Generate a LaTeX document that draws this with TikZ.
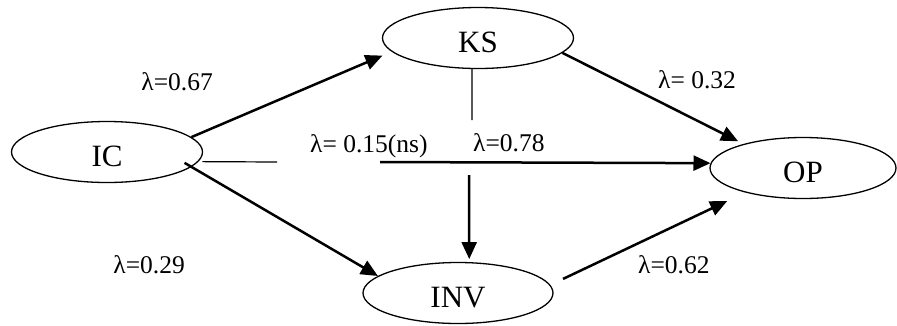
\documentclass[tikz,border=0pt]{standalone}
\usepackage{fontspec}
\setmainfont{Liberation Serif}
\usetikzlibrary{arrows.meta,shapes.geometric}
\begin{document}
\begin{tikzpicture}[x=1pt,y=-1pt,
  var/.style={draw, line width=1.3pt, ellipse, minimum width=191pt, minimum height=61pt,
    inner sep=0pt, font=\fontsize{31}{31}\selectfont, text height=28pt, text depth=0pt},
  lab/.style={font=\fontsize{25.5}{25.5}\selectfont, inner sep=0pt},
  arr/.style={line width=2.5pt, -{Triangle[length=17pt,width=15pt]}},
  thinline/.style={line width=1.2pt}]
\useasboundingbox (0,0) rectangle (897,325);
\node[var] (IC) at (107,152) {IC};
\node[var] (KS) at (478,38) {KS};
\node[var, minimum width=190pt] (INV) at (458,293) {INV};
\node[var, minimum width=186pt] (OP) at (803,168) {OP};
\coordinate (hA) at (277,162);
\coordinate (hB) at (380,162);
\coordinate (vA) at (472,120);
\coordinate (vB) at (469,175);
\draw[arr, shorten >=10pt] (IC.10) -- (KS.189);
\draw[arr, shorten >=6pt] (KS.350) -- (OP.158);
\draw[arr, shorten <=-8pt] (IC.350) -- (INV.168);
\draw[arr, shorten <=14pt, shorten >=20pt] (INV.5) -- (OP.203);
\draw[thinline, shorten <=4pt] (IC.354) -- (hA);
\draw[arr] (hB) -- (OP.177);
\draw[thinline] (KS.259) -- (vA);
\draw[arr, shorten >=3pt] (vB) -- (INV.70);
\node[lab, anchor=base east] (l1) at (213,90) {λ=0.67};
\node[lab, anchor=base west] (l2) at (658,88) {λ= 0.32};
\node[lab, anchor=base west] (l3) at (310,152) {λ= 0.15(ns)};
\node[lab, anchor=base west] (l4) at (473,151) {λ=0.78};
\node[lab, anchor=base east] (l5) at (185,273) {λ=0.29};
\node[lab, anchor=base west] (l6) at (638,273) {λ=0.62};
\end{tikzpicture}
\end{document}
